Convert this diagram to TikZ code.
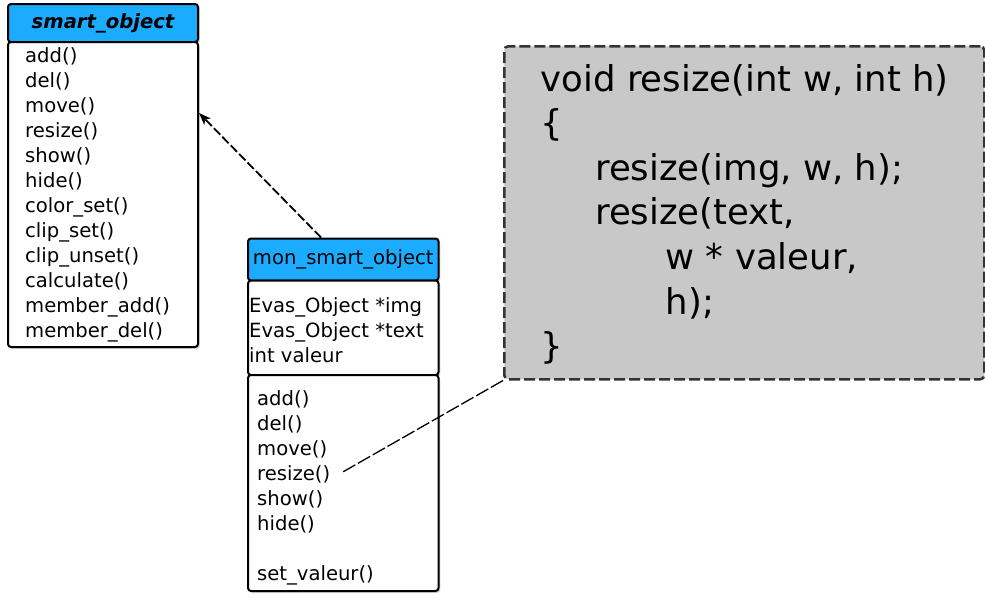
\documentclass[tikz,border=0pt]{standalone}
\usepackage{fontspec}
\setmainfont{DejaVu Sans}
\usetikzlibrary{arrows.meta,shadows}
\definecolor{headblue}{RGB}{27,171,255}
\definecolor{codegray}{RGB}{200,200,200}
\definecolor{codeline}{RGB}{51,51,51}

\begin{document}
\begin{tikzpicture}[x=1pt,y=-1pt,
    box/.style={draw, line width=2pt, rounded corners=3pt, anchor=north west,
      inner sep=0pt, drop shadow={opacity=0.3,shadow xshift=1.8pt,shadow yshift=-2pt}},
    head/.style={box, fill=headblue, font=\fontsize{19.6}{25}\selectfont},
    body/.style={box, fill=white},
    lines/.style={anchor=north west, inner sep=0pt, align=left, font=\fontsize{19.6}{25}\selectfont},
    inherit/.style={draw, line width=1.8pt, dash pattern=on 9pt off 3pt,
      -{Stealth[length=12pt,width=9pt,inset=3pt]}},
    notelink/.style={draw, line width=1.3pt, dash pattern=on 14pt off 3pt}]

        \useasboundingbox (0,0) rectangle (985,598);

        % classes
        \node[head, minimum width=190pt, minimum height=38pt] (smarthead) at (7,3) {\bfseries\itshape smart\_object};
        \node[body, minimum width=190pt, minimum height=305pt] (smartbody) at (7,41) {};

        \node[head, minimum width=190.5pt, minimum height=42pt] (monhead) at (247,237.5) {mon\_smart\_object};
        \node[body, minimum width=190.5pt, minimum height=94.5pt] (monattr) at (247,279.5) {};
        \node[body, minimum width=190.5pt, minimum height=216pt] (monmeth) at (247,374) {};

        % note
        \node[draw=codeline, fill=codegray, line width=2.5pt, dash pattern=on 11pt off 4pt,
          rounded corners=4pt, anchor=north west, inner sep=0pt,
          minimum width=480pt, minimum height=333pt] (codebox) at (503,45) {};

        \begin{scope}[every node/.style={lines}]
          \node (smartops) at (25,47.5) {add()\\del()\\move()\\resize()\\show()\\hide()\\color\_set()\\clip\_set()\\clip\_unset()\\calculate()\\member\_add()\\member\_del()};
          \node (monvars)  at (249,296.9) {Evas\_Object *img\\Evas\_Object *text\\int valeur};
          \node (monops)   at (257,390.2) {add()\\del()\\move()\\resize()\\show()\\hide()\\[25pt]set\_valeur()};
          \node[font=\fontsize{35.5}{44.6}\selectfont] (codetext) at (540.5,64)
            {void resize(int w, int h)\\\{\\\hspace*{54.5pt}resize(img, w, h);\\\hspace*{54.5pt}resize(text,\\\hspace*{125pt}w * valeur,\\\hspace*{125pt}h);\\\}};
        \end{scope}

        \coordinate (resizeend) at (341,473);

        \path ([xshift=-22.25pt]monhead.north) edge[inherit] ([yshift=81.5pt]smartbody.east);
        \path (codebox.south west) edge[notelink] (resizeend);

      \end{tikzpicture}
\end{document}
